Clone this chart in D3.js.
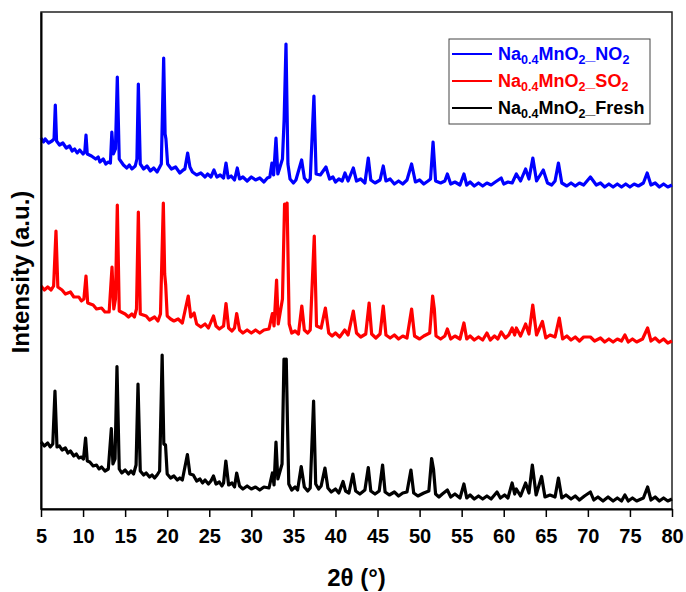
<!DOCTYPE html>
<html><head><meta charset="utf-8">
<script src="https://cdn.jsdelivr.net/npm/d3@7"></script>
<style>body{margin:0;background:#fff}svg{display:block}</style>
</head><body><svg id="c" width="686" height="592"></svg>
<script>
// ---- data (2θ in degrees, stacked intensity in a.u.) ----
const xTicks = [5,10,15,20,25,30,35,40,45,50,55,60,65,70,75,80];
const seriesLabels = [
  ["Na","0.4","MnO","2","_NO","2"],
  ["Na","0.4","MnO","2","_SO","2"],
  ["Na","0.4","MnO","2","_Fresh",""]
];
const seriesColors = ["#0000ff", "#ff0000", "#000000"];

const dataNO2 = [
[5.0,742],[5.3,734],[5.5,740],[5.9,732],[6.3,736],[6.55,740],[6.7,808],[6.85,736],[7.2,728],[7.6,732],[8.0,722],[8.4,726],[8.7,716],[9.0,720],[9.3,712],[9.6,718],[10.0,710],[10.2,714],[10.35,748],[10.5,710],[11.0,706],[11.5,700],[11.8,704],[12.0,694],[12.4,700],[12.7,690],[13.0,694],[13.25,692],[13.42,754],[13.6,710],[13.85,720],[14.07,864],[14.3,700],[14.8,688],[15.2,682],[15.5,688],[15.8,680],[16.2,686],[16.4,700],[16.57,850],[16.8,690],[17.2,680],[17.6,686],[18.0,676],[18.4,682],[18.8,674],[19.3,690],[19.58,902],[19.75,750],[19.85,740],[20.05,690],[20.5,680],[21.0,684],[21.5,672],[21.9,678],[22.1,680],[22.43,712],[22.7,684],[23.0,674],[23.5,668],[24.0,672],[24.5,664],[24.8,670],[25.2,664],[25.56,678],[25.9,664],[26.3,668],[26.7,662],[26.99,692],[27.25,662],[27.6,666],[28.0,658],[28.33,682],[28.6,660],[29.0,664],[29.5,656],[30.0,664],[30.5,658],[31.0,662],[31.5,654],[31.9,662],[32.2,664],[32.45,692],[32.65,668],[32.93,742],[33.15,670],[33.7,700],[33.9,780],[34.12,930],[34.35,690],[34.6,660],[35.0,652],[35.3,658],[35.98,698],[36.3,662],[36.7,654],[37.0,660],[37.44,826],[37.7,670],[38.2,668],[38.87,684],[39.3,660],[39.7,664],[40.0,654],[40.4,660],[40.8,656],[41.13,672],[41.5,656],[42.12,682],[42.5,656],[43.0,660],[43.5,652],[43.9,702],[44.2,658],[44.7,652],[45.3,658],[45.68,686],[46.0,656],[46.5,660],[47.0,650],[47.5,656],[48.0,650],[48.5,658],[49.05,690],[49.5,654],[50.0,658],[50.5,650],[51.0,656],[51.3,660],[51.6,734],[51.9,656],[52.5,652],[53.0,656],[53.3,670],[53.7,650],[54.2,654],[54.8,648],[55.27,670],[55.6,648],[56.0,654],[56.5,646],[57.0,652],[57.5,646],[58.0,652],[58.5,648],[59.0,654],[59.7,662],[60.0,650],[60.5,654],[61.0,652],[61.5,670],[62.0,656],[62.6,680],[63.0,660],[63.46,702],[63.9,656],[64.7,678],[65.2,652],[65.7,648],[66.1,656],[66.5,692],[66.9,652],[67.5,646],[68.0,652],[68.5,646],[69.0,652],[69.5,648],[70.3,664],[71.0,648],[71.5,652],[72.0,644],[72.5,650],[73.0,644],[73.5,650],[74.0,644],[74.5,650],[75.0,644],[75.5,650],[76.0,646],[76.6,652],[77.05,672],[77.5,648],[78.0,652],[78.5,644],[79.0,650],[79.5,644],[80.0,648]
];
const dataSO2 = [
[5.0,446],[5.4,438],[5.8,444],[6.2,438],[6.5,446],[6.78,556],[7.0,444],[7.5,438],[7.9,430],[8.5,434],[8.9,424],[9.5,424],[9.8,416],[10.1,420],[10.35,466],[10.55,412],[11.2,408],[11.6,400],[12.2,402],[12.6,394],[13.1,394],[13.44,484],[13.65,400],[13.85,420],[14.07,608],[14.3,396],[15.0,390],[15.4,384],[15.8,390],[16.1,384],[16.35,400],[16.57,594],[16.8,390],[17.5,386],[17.9,378],[18.5,384],[18.9,376],[19.2,390],[19.54,612],[19.7,470],[19.82,448],[20.0,386],[20.4,380],[20.8,376],[21.3,380],[21.8,372],[22.5,426],[22.8,384],[23.2,392],[23.5,370],[24.0,364],[24.5,370],[24.9,362],[25.5,386],[25.8,366],[26.2,360],[26.7,366],[26.99,411],[27.3,362],[27.7,356],[28.0,362],[28.26,391],[28.6,358],[29.0,352],[29.5,358],[30.0,352],[30.5,358],[31.0,352],[31.5,358],[32.1,360],[32.5,391],[32.7,366],[33.0,458],[33.2,370],[33.7,420],[33.95,610],[34.1,590],[34.25,612],[34.5,370],[34.8,352],[35.2,356],[35.6,350],[36.0,406],[36.3,358],[36.7,352],[37.0,358],[37.48,546],[37.75,366],[38.3,362],[38.8,402],[39.2,352],[39.6,346],[40.0,352],[40.5,344],[41.1,358],[41.5,348],[42.12,396],[42.5,352],[43.0,344],[43.6,350],[44.0,412],[44.3,350],[44.8,342],[45.3,350],[45.68,406],[46.0,348],[46.5,342],[47.0,348],[47.5,340],[48.0,346],[48.5,342],[49.05,400],[49.4,346],[50.0,340],[50.5,346],[51.2,352],[51.55,426],[51.75,400],[51.95,346],[52.5,340],[53.0,346],[53.3,360],[53.7,340],[54.2,346],[54.8,340],[55.27,372],[55.6,340],[56.0,346],[56.5,338],[57.0,344],[57.5,338],[58.0,352],[58.4,338],[58.9,346],[59.3,340],[59.7,354],[60.2,342],[60.6,348],[61.0,362],[61.3,348],[61.5,362],[62.0,346],[62.6,370],[63.0,350],[63.45,408],[63.9,348],[64.6,375],[65.0,342],[65.5,348],[66.1,344],[66.6,382],[67.0,340],[67.5,346],[68.0,338],[68.5,344],[69.0,336],[69.5,344],[70.3,344],[70.8,336],[71.5,342],[72.0,334],[72.5,340],[73.0,334],[73.5,340],[74.0,336],[74.4,348],[74.8,334],[75.3,340],[75.8,334],[76.5,340],[77.1,362],[77.5,336],[78.0,342],[78.5,334],[79.0,340],[79.5,332],[80.0,336]
];
const dataFresh = [
[5.0,134],[5.4,126],[5.8,132],[6.1,124],[6.4,130],[6.66,236],[6.9,124],[7.2,126],[7.5,118],[7.9,122],[8.2,112],[8.5,116],[8.9,106],[9.2,110],[9.5,102],[9.8,104],[10.05,100],[10.3,142],[10.5,96],[10.8,94],[11.2,86],[11.6,88],[11.9,80],[12.2,84],[12.6,76],[13.0,80],[13.36,161],[13.55,90],[13.8,100],[14.03,285],[14.3,80],[14.6,72],[15.0,78],[15.4,70],[15.7,76],[16.0,70],[16.3,88],[16.53,250],[16.8,76],[17.2,68],[17.5,72],[17.9,64],[18.2,68],[18.5,62],[18.8,68],[19.1,76],[19.4,308],[19.6,130],[19.8,128],[20.0,70],[20.4,62],[20.8,66],[21.2,58],[21.5,62],[21.8,58],[22.4,109],[22.7,70],[23.1,68],[23.5,56],[23.9,60],[24.2,52],[24.5,58],[24.9,50],[25.2,56],[25.5,66],[25.8,50],[26.2,54],[26.5,46],[26.7,52],[26.97,96],[27.3,48],[27.7,52],[28.0,44],[28.26,72],[28.6,46],[29.0,40],[29.5,46],[30.0,40],[30.5,44],[31.0,38],[31.5,44],[32.1,42],[32.5,72],[32.7,48],[32.93,134],[33.15,60],[33.65,90],[33.88,300],[34.02,280],[34.15,300],[34.3,168],[34.45,50],[34.8,38],[35.2,44],[35.5,38],[35.93,85],[36.3,44],[36.7,36],[37.0,42],[37.4,216],[37.65,50],[38.0,40],[38.3,46],[38.75,82],[39.1,42],[39.5,34],[40.0,40],[40.4,32],[40.9,55],[41.2,36],[41.6,32],[42.07,70],[42.4,36],[42.9,30],[43.5,38],[43.9,83],[44.2,36],[44.7,30],[45.2,36],[45.6,88],[45.9,34],[46.4,28],[47.0,34],[47.5,26],[48.0,32],[48.5,34],[48.97,78],[49.3,32],[49.8,26],[50.5,32],[51.1,36],[51.43,101],[51.65,80],[51.9,30],[52.3,24],[52.7,30],[53.3,38],[53.7,24],[54.2,30],[54.8,22],[55.27,50],[55.6,22],[56.0,28],[56.5,20],[57.0,26],[57.5,20],[58.0,26],[58.5,20],[59.2,34],[59.6,22],[60.1,28],[60.5,22],[61.0,52],[61.3,30],[61.5,40],[62.0,26],[62.6,52],[63.0,32],[63.4,88],[63.85,28],[64.5,65],[64.9,24],[65.5,28],[66.1,24],[66.5,62],[66.9,22],[67.4,28],[68.0,20],[68.5,26],[69.0,18],[69.6,26],[70.3,34],[70.7,18],[71.2,24],[71.8,16],[72.4,24],[73.0,16],[73.5,22],[74.0,16],[74.4,28],[74.8,16],[75.3,22],[75.8,16],[76.6,22],[77.1,44],[77.5,18],[78.0,24],[78.5,16],[79.0,22],[79.5,16],[80.0,20]
];
const seriesData = [dataNO2, dataSO2, dataFresh];

// ---- chart ----
const svg = d3.select("#c");
const W = 686, H = 592;
const m = {left: 41, right: 14, top: 12, bottom: 83};
const x = d3.scaleLinear().domain([5, 80]).range([m.left, W - m.right]);
const y = d3.scaleLinear().domain([0, 994]).range([H - m.bottom, m.top]);

// frame
svg.append("rect").attr("x", m.left).attr("y", m.top)
  .attr("width", W - m.right - m.left).attr("height", H - m.bottom - m.top)
  .attr("fill", "none").attr("stroke", "#222").attr("stroke-width", 1.5);

// series
const line = d3.line().x(d => x(d[0])).y(d => y(d[1]));
seriesData.forEach((d, i) => {
  svg.append("path").datum(d).attr("d", line)
    .attr("fill", "none").attr("stroke", seriesColors[i])
    .attr("stroke-width", 3.2).attr("stroke-linejoin", "round");
});

// axes
const xAxis = d3.axisBottom(x).tickValues(xTicks).tickSize(8).tickSizeOuter(0).tickPadding(12);
const gx = svg.append("g").attr("transform", `translate(0,${H - m.bottom})`).call(xAxis);
gx.select(".domain").attr("stroke", "#000").attr("stroke-width", 2);
gx.selectAll(".tick line").attr("stroke", "#000").attr("stroke-width", 1.5);
gx.selectAll(".tick text").attr("fill", "#000")
  .style("font-family", "'Liberation Sans Narrow', 'Arial Narrow', sans-serif")
  .style("font-weight", "bold").style("font-size", "20px");

const gy = svg.append("g").attr("transform", `translate(${m.left},0)`)
  .call(d3.axisLeft(y).tickValues([]).tickSizeOuter(0));
gy.select(".domain").attr("stroke", "#000").attr("stroke-width", 2);

// axis titles
svg.append("text").attr("x", (m.left + W - m.right) / 2).attr("y", 586)
  .attr("text-anchor", "middle")
  .style("font-family", "'Liberation Sans Narrow', 'Arial Narrow', sans-serif")
  .style("font-weight", "bold").style("font-size", "24px").text("2θ (°)");
svg.append("text").attr("transform", "translate(29,272) rotate(-90)")
  .attr("text-anchor", "middle")
  .style("font-family", "'Liberation Sans', Arial, sans-serif")
  .style("font-weight", "bold").style("font-size", "24px").text("Intensity (a.u.)");

// legend
const lg = svg.append("g");
lg.append("rect").attr("x", 449).attr("y", 39).attr("width", 201).attr("height", 85)
  .attr("fill", "#fff").attr("stroke", "#444").attr("stroke-width", 1);
seriesLabels.forEach((parts, i) => {
  const yy = 54 + i * 27;
  lg.append("line").attr("x1", 452).attr("x2", 492).attr("y1", yy).attr("y2", yy)
    .attr("stroke", seriesColors[i]).attr("stroke-width", 2);
  const t = lg.append("text").attr("x", 498).attr("y", yy + 6)
    .attr("fill", seriesColors[i])
    .style("font-family", "'Liberation Sans', Arial, sans-serif")
    .style("font-weight", "bold").style("font-size", "18px");
  parts.forEach((p, k) => {
    if (!p) return;
    const ts = t.append("tspan").text(p);
    if (k % 2 === 1) ts.attr("dy", 4).style("font-size", "12.5px");
    else if (k > 0 && parts[k - 1]) ts.attr("dy", -4);
  });
});
</script></body></html>
